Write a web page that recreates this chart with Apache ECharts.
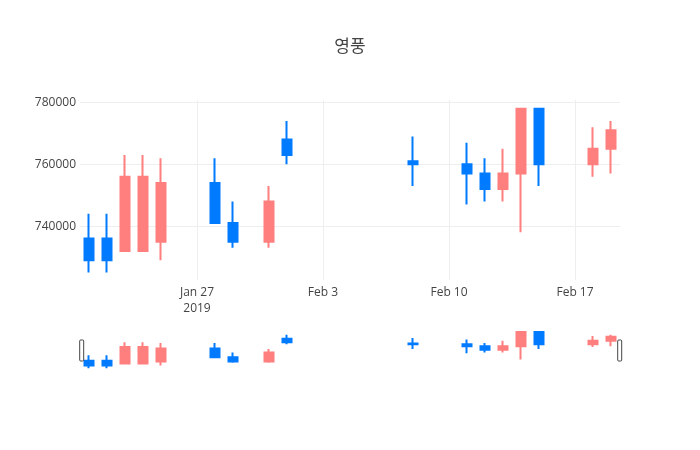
<!DOCTYPE html>
<html>
<head>
<meta charset="utf-8">
<title>영풍</title>
<script src="https://cdn.jsdelivr.net/npm/echarts@6/dist/echarts.min.js"></script>
<style>
html, body { margin: 0; padding: 0; background: #fff; }
#chart { width: 700px; height: 450px; }
</style>
</head>
<body>
<div id="chart"></div>
<script>
// 영풍 일봉 2019.01.21 ~ 2019.02.19
const dates  = ['2019-01-21', '2019-01-22', '2019-01-23', '2019-01-24', '2019-01-25',
                '2019-01-28', '2019-01-29', '2019-01-31', '2019-02-01', '2019-02-08',
                '2019-02-11', '2019-02-12', '2019-02-13', '2019-02-14', '2019-02-15',
                '2019-02-18', '2019-02-19']
const opens  = [736000, 736000, 732000, 732000, 735000, 754000, 741000, 735000, 768000,
                761000, 760000, 757000, 752000, 757000, 778000, 760000, 765000]
const closes = [729000, 729000, 756000, 756000, 754000, 741000, 735000, 748000, 763000,
                760000, 757000, 752000, 757000, 778000, 760000, 765000, 771000]
const lows   = [725000, 725000, 732000, 732000, 729000, 741000, 733000, 733000, 760000,
                753000, 747000, 748000, 748000, 738000, 753000, 756000, 757000]
const highs  = [744000, 744000, 763000, 763000, 762000, 762000, 748000, 753000, 774000,
                769000, 767000, 762000, 765000, 778000, 778000, 772000, 774000]

// 눈금
const xTicks = ['2019-01-27', '2019-02-03', '2019-02-10', '2019-02-17']
const yTicks = [740000, 760000, 780000]

const DAY = 86400000
const months = ['Jan', 'Feb', 'Mar', 'Apr', 'May', 'Jun', 'Jul', 'Aug', 'Sep', 'Oct', 'Nov', 'Dec']
const toUTC = s => { const p = s.split('-'); return Date.UTC(+p[0], +p[1] - 1, +p[2]) }
// x값 = 첫 일요일(Jan 27)로부터의 일수 -> 7의 배수가 일요일
const origin = toUTC(xTicks[0])
const dayOf = s => (toUTC(s) - origin) / DAY
const xTickVals = xTicks.map(dayOf)

const xMin = dayOf(dates[0]) - 0.5
const xMax = dayOf(dates[dates.length - 1]) + 0.5
const yMin = 722600
const yMax = 780800

const candles = dates.map((d, i) => [dayOf(d), opens[i], closes[i], lows[i], highs[i]])

const upColor = '#ff7f7f'
const downColor = '#007bff'
const font = "'Open Sans', 'Noto Sans CJK KR', sans-serif"

const myChart = echarts.init(document.getElementById('chart'), null, { renderer: 'canvas' })

const candleStyle = {
  color: upColor,
  color0: downColor,
  borderColor: upColor,
  borderColor0: downColor,
  borderWidth: 2
}

const option = {
  animation: false,
  backgroundColor: '#fff',
  textStyle: { fontFamily: font },
  title: {
    text: '영풍',
    left: 'center',
    top: 34,
    textStyle: { fontFamily: font, fontSize: 17, fontWeight: 'normal', color: '#444' }
  },
  grid: [
    { left: 80, top: 100, width: 540, height: 180, containLabel: false },
    { left: 80, top: 330, width: 540, height: 40, containLabel: false }
  ],
  xAxis: [{
    type: 'value',
    gridIndex: 0,
    min: xMin,
    max: xMax,
    minInterval: 7,
    maxInterval: 7,
    axisLine: { show: false },
    axisTick: { show: false },
    splitLine: { show: true, showMinLine: false, showMaxLine: false, lineStyle: { color: '#eee', width: 1 } },
    axisLabel: {
      color: '#444',
      fontSize: 12,
      fontFamily: font,
      margin: 5,
      lineHeight: 16,
      formatter: function (v) {
        const k = xTickVals.indexOf(v)
        if (k < 0) return ''
        const d = new Date(origin + v * DAY)
        let s = months[d.getUTCMonth()] + ' ' + d.getUTCDate()
        if (k === 0) s += '\n' + d.getUTCFullYear()
        return s
      }
    }
  }, {
    type: 'value',
    gridIndex: 1,
    min: xMin,
    max: xMax,
    show: false,
    splitLine: { show: false }
  }],
  yAxis: [{
    type: 'value',
    gridIndex: 0,
    min: yMin,
    max: yMax,
    minInterval: 20000,
    maxInterval: 20000,
    axisLine: { show: false },
    axisTick: { show: false },
    splitLine: { show: true, showMinLine: false, showMaxLine: false, lineStyle: { color: '#eee', width: 1 } },
    axisLabel: {
      color: '#444',
      fontSize: 12,
      fontFamily: font,
      margin: 4,
      formatter: v => yTicks.indexOf(v) >= 0 ? String(v) : ''
    }
  }, {
    type: 'value',
    gridIndex: 1,
    min: yMin,
    max: yMax,
    show: false,
    splitLine: { show: false }
  }],
  dataZoom: [{
    type: 'slider',
    xAxisIndex: 1,
    filterMode: 'none',
    start: 0,
    end: 100,
    left: 80,
    right: 80,
    top: 340,
    height: 21,
    backgroundColor: 'transparent',
    borderColor: 'transparent',
    fillerColor: 'transparent',
    showDetail: false,
    showDataShadow: false,
    brushSelect: false,
    moveHandleSize: 0,
    moveHandleStyle: { opacity: 0 },
    dataBackground: { lineStyle: { opacity: 0 }, areaStyle: { opacity: 0 } },
    selectedDataBackground: { lineStyle: { opacity: 0 }, areaStyle: { opacity: 0 } },
    handleIcon: 'path://M1,0H3A1,1,0,0,1,4,1V20A1,1,0,0,1,3,21H1A1,1,0,0,1,0,20V1A1,1,0,0,1,1,0Z',
    handleSize: '100%',
    handleStyle: { color: '#fff', borderColor: '#444', borderWidth: 1 }
  }],
  series: [{
    name: '영풍',
    type: 'candlestick',
    xAxisIndex: 0,
    yAxisIndex: 0,
    barWidth: 9,
    encode: { x: 0, y: [1, 2, 3, 4] },
    itemStyle: candleStyle,
    data: candles
  }, {
    name: 'rangeslider',
    type: 'candlestick',
    xAxisIndex: 1,
    yAxisIndex: 1,
    barWidth: 9,
    encode: { x: 0, y: [1, 2, 3, 4] },
    itemStyle: candleStyle,
    silent: true,
    data: candles
  }]
}
myChart.setOption(option)
</script>
</body>
</html>
